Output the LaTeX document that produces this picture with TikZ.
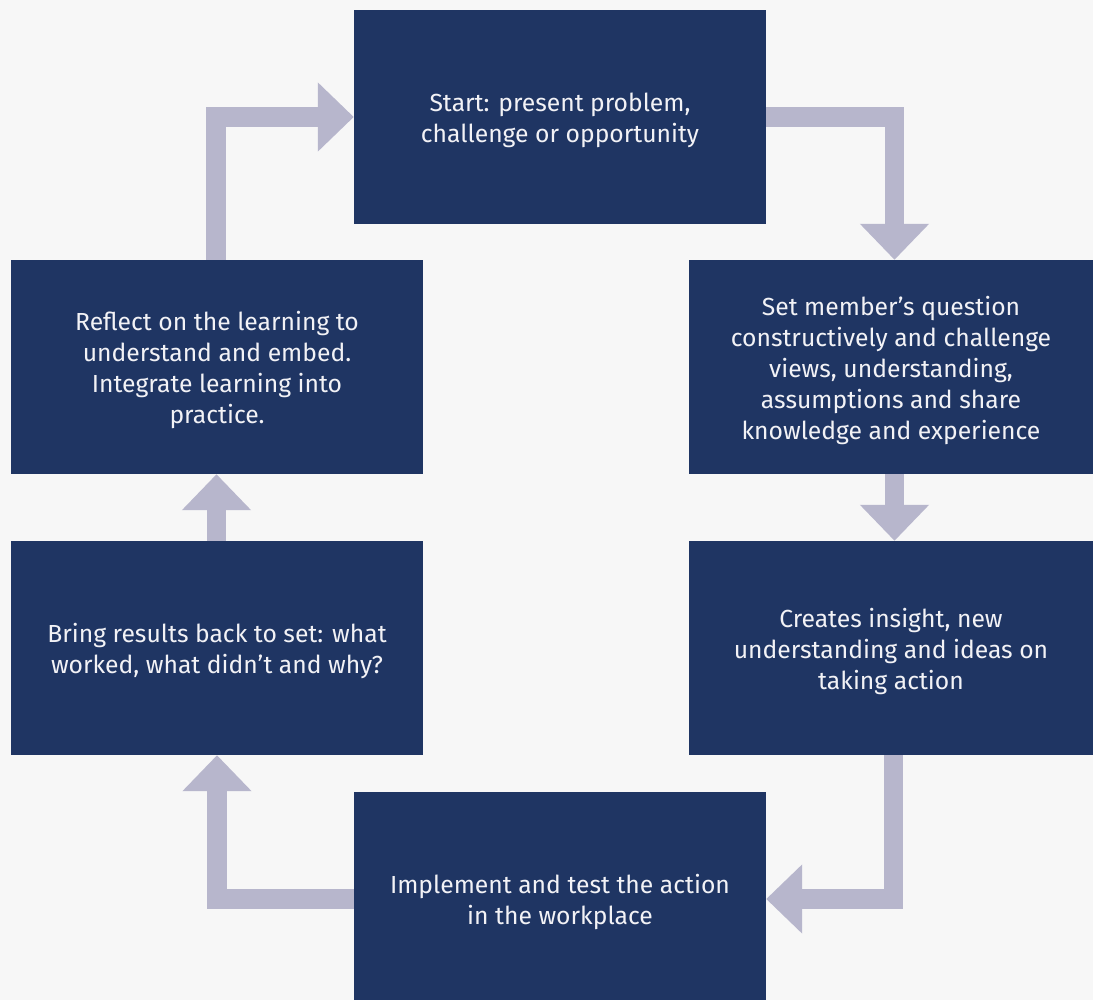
\documentclass[tikz,border=0pt]{standalone}
\usepackage{fontspec}
\setmainfont{Fira Sans}
\usetikzlibrary{arrows.meta,calc}
\definecolor{navy}{HTML}{1F3563}
\definecolor{flowc}{HTML}{B7B6CC}
\definecolor{bgc}{HTML}{F7F7F7}
\definecolor{txtc}{HTML}{F2F2F6}
\newcommand\tstr{\rule{0pt}{26pt}}
\begin{document}
\begin{tikzpicture}[x=1pt,y=-1pt,
  box/.style={fill=navy, draw=none, text=txtc, align=center, inner sep=0pt,
    font=\fontsize{24.7}{31}\selectfont},
  flow/.style={draw=flowc, line width=19.5pt, line join=miter, line cap=butt,
    -{Triangle[width=67pt,length=36pt]}}]
\useasboundingbox (0,0) rectangle (1093,1000);
\fill[bgc] (0,0) rectangle (1093,1000);
\node[box, minimum width=412pt, minimum height=214pt] (top) at (560,117) {\tstr Start: present problem,\\challenge or opportunity};
\node[box, minimum width=404pt, minimum height=214pt] (r1) at (891,367) {\tstr Set member’s question\\constructively and challenge\\views, understanding,\\assumptions and share\\knowledge and experience};
\node[box, minimum width=404pt, minimum height=214pt] (r2) at (891,648) {\tstr Creates insight, new\\understanding and ideas on\\taking action};
\node[box, minimum width=412pt, minimum height=214pt] (bot) at (560,899) {\tstr Implement and test the action\\in the workplace};
\node[box, minimum width=412pt, minimum height=214pt] (l2) at (217,648) {\tstr Bring results back to set: what\\worked, what didn’t and why?};
\node[box, minimum width=412pt, minimum height=214pt] (l1) at (217,367) {\tstr Reflect on the learning to\\understand and embed.\\Integrate learning into\\practice.};
\draw[flow] (top.east) -| ([xshift=3.5pt]r1.north);
\draw[flow] ([xshift=3.5pt]r1.south) -- ([xshift=3.5pt]r2.north);
\draw[flow] ([xshift=2.5pt]r2.south) |- (bot.east);
\draw[flow] (bot.west) -| (l2.south);
\draw[flow] ([xshift=-0.5pt]l2.north) -- ([xshift=-0.5pt]l1.south);
\draw[flow] ([xshift=-1pt]l1.north) |- (top.west);
\end{tikzpicture}
\end{document}
